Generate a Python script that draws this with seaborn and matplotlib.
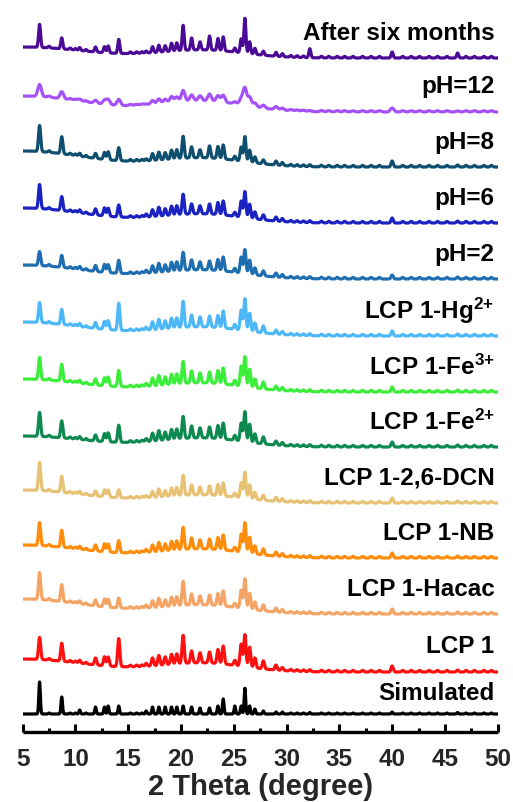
import numpy as np
import pandas as pd
import matplotlib
matplotlib.use("Agg")
import matplotlib.pyplot as plt
import seaborn as sns
from matplotlib.ticker import MultipleLocator

# ---- data (heights in px-like units) ----
peak_pos = [6.6, 8.7, 10.4, 11.9, 12.75, 13.1, 14.1, 16.7, 17.3, 17.9, 18.5, 19.1, 19.6,
            20.2, 21.0, 21.8, 22.7, 23.5, 24.0, 25.1, 25.7, 26.05, 26.5, 27.0, 27.8,
            29.0, 29.6, 32.2, 40.0, 46.2]
minor_pos = [7.5, 9.5, 10.0, 11.0, 15.2, 15.8, 16.3, 30.4, 31.0, 31.6, 33.3, 34.0, 34.8,
             35.5, 36.3, 37.2, 38.0, 38.8, 41.0, 41.8, 42.6, 43.5, 44.3, 45.2, 47.0,
             47.8, 48.7, 49.4]
broad_pos = [5.0, 22.0]
broad_sigma = [6.0, 4.0]

samples = ["Simulated", "LCP 1", "LCP 1-Hacac", "LCP 1-NB", "LCP 1-2,6-DCN",
           "LCP 1-Fe$^{2{+}}$", "LCP 1-Fe$^{3{+}}$", "LCP 1-Hg$^{2{+}}$",
           "pH=2", "pH=6", "pH=8", "pH=12", "After six months"]
colors = ["#000000", "#FF1010", "#F4A464", "#FF8C0A", "#E8C274", "#0E8A50", "#3AEE3A",
          "#4DB8F8", "#1E6EB0", "#1A22C2", "#0E4F70", "#A650FA", "#4B0A95"]
offsets = [18, 60, 118, 174, 229, 285, 340, 396, 453, 509, 565, 620, 674]
widths = [0.17, 0.24, 0.24, 0.24, 0.24, 0.24, 0.24, 0.24, 0.24, 0.24, 0.24, 0.4, 0.22]
minor_h = [1.0, 1.6, 1.6, 1.6, 1.6, 1.6, 1.6, 1.6, 1.6, 1.6, 1.6, 1.2, 1.6]
broad_low = [0, 13, 15, 13, 13, 11, 13, 14, 14, 15, 16, 16, 11]
broad_hump = [0, 9, 9, 9, 8, 9, 9, 9, 9, 9, 9, 11, 8]

h_sim = [32, 17, 4, 7, 7, 8, 8, 3, 7, 7, 7, 7, 7, 8, 7, 6, 6, 8, 15, 8, 8, 26, 8, 5, 3, 2, 2, 1.5, 2, 1.5]
h_lcp1 = [22, 18, 3, 7, 9, 9, 28, 3, 8, 10, 8, 10, 10, 28, 12, 10, 11, 14, 18, 5, 22, 32, 20, 10, 8, 5, 3, 2, 6, 2]
h_hacac = [27, 17, 3, 6, 8, 8, 10, 3, 7, 9, 7, 9, 9, 24, 11, 9, 10, 12, 15, 4, 18, 30, 16, 8, 6, 4, 3, 2, 5, 2]
h_nb = [23, 17, 3, 6, 8, 8, 12, 3, 7, 9, 7, 9, 9, 22, 11, 9, 10, 12, 15, 4, 18, 30, 16, 8, 6, 4, 3, 2, 5, 2]
h_dcn = [28, 16, 3, 5, 7, 7, 8, 2, 6, 8, 6, 8, 8, 20, 10, 8, 9, 11, 13, 4, 15, 26, 14, 7, 5, 4, 3, 2, 5, 2]
h_fe2 = [24, 17, 3, 6, 8, 9, 17, 3, 8, 10, 8, 10, 10, 22, 12, 10, 11, 13, 16, 5, 18, 30, 18, 9, 7, 4, 3, 2, 5, 2]
h_fe3 = [22, 17, 3, 6, 8, 9, 16, 3, 8, 10, 8, 10, 10, 22, 12, 10, 11, 13, 16, 5, 20, 30, 18, 9, 7, 4, 3, 2, 5, 2]
h_hg = [20, 15, 3, 6, 8, 9, 27, 3, 8, 10, 8, 10, 10, 26, 12, 10, 11, 12, 17, 5, 20, 32, 18, 9, 7, 4, 3, 2, 5, 2]
h_ph2 = [14, 12, 3, 6, 8, 8, 13, 3, 7, 9, 7, 9, 9, 18, 10, 8, 9, 11, 14, 4, 16, 24, 14, 7, 5, 4, 3, 2, 4, 2]
h_ph6 = [24, 14, 3, 6, 8, 8, 12, 3, 7, 9, 7, 9, 9, 20, 10, 8, 10, 12, 14, 4, 16, 26, 14, 7, 5, 4, 3, 2, 5, 2]
h_ph8 = [26, 17, 3, 5, 7, 8, 13, 2, 7, 8, 7, 9, 9, 22, 11, 8, 12, 12, 14, 4, 14, 25, 12, 6, 4, 4, 3, 2, 6, 2]
h_ph12 = [12, 7, 2, 3, 4, 5, 6, 1, 4, 5, 4, 6, 5, 11, 6, 5, 7, 6, 7, 2, 6, 17, 9, 4, 3, 3, 2, 1, 4, 1]
h_after = [23, 11, 3, 5, 6, 7, 14, 2, 6, 7, 6, 8, 8, 25, 12, 8, 14, 12, 14, 4, 14, 35, 12, 6, 4, 4, 3, 9, 6, 5]

heights = [h_sim, h_lcp1, h_hacac, h_nb, h_dcn, h_fe2, h_fe3, h_hg, h_ph2, h_ph6, h_ph8, h_ph12, h_after]

# ---- build profiles (peak list rendered as gaussian peaks) ----
x = np.arange(5.0, 50.0001, 0.02)


def profile(i):
    sig = widths[i] / 2.355
    y = np.full_like(x, float(offsets[i]))
    for p, h in zip(peak_pos, heights[i]):
        y += h * np.exp(-0.5 * ((x - p) / sig) ** 2)
    for p in minor_pos:
        y += minor_h[i] * np.exp(-0.5 * ((x - p) / sig) ** 2)
    for p, s, a in zip(broad_pos, broad_sigma, [broad_low[i], broad_hump[i]]):
        y += a * np.exp(-0.5 * ((x - p) / s) ** 2)
    return y


frames = []
for i, name in enumerate(samples):
    frames.append(pd.DataFrame({"x": x, "y": profile(i), "sample": name}))
df = pd.concat(frames, ignore_index=True)

# ---- plot ----
sns.set_theme(style="white")
plt.rcParams["font.family"] = ["Liberation Sans", "DejaVu Sans"]
plt.rcParams["font.weight"] = "bold"
plt.rcParams["mathtext.fontset"] = "custom"
plt.rcParams["mathtext.bf"] = "Liberation Sans:bold"
plt.rcParams["mathtext.rm"] = "Liberation Sans:bold"
plt.rcParams["mathtext.it"] = "Liberation Sans:bold"

fig = plt.figure(figsize=(5.13, 8.03), dpi=100)
ax = fig.add_axes([22.7 / 513, 70 / 803, 475 / 513, 733 / 803])

sns.lineplot(data=df, x="x", y="y", hue="sample", palette=dict(zip(samples, colors)),
             hue_order=samples, legend=False, ax=ax, lw=2.3, sort=False, estimator=None)

for i, name in enumerate(samples):
    dy = 21 if i == 0 else 26
    ax.text(49.7, offsets[i] + dy, name, ha="right", va="center", fontsize=17.5,
            fontweight="bold", color="black")

ax.set_xlim(5, 50)
ax.set_ylim(0, 733)
ax.set_yticks([])
ax.set_ylabel("")
ax.xaxis.set_major_locator(MultipleLocator(5))
ax.xaxis.set_minor_locator(MultipleLocator(2.5))
ax.tick_params(axis="x", which="major", direction="in", length=6, width=2.2,
               labelsize=17.5, pad=11, bottom=True, color="black")
ax.tick_params(axis="x", which="minor", direction="in", length=3, width=2.2,
               bottom=True, color="black")
for lab in ax.get_xticklabels():
    lab.set_fontweight("bold")
ax.set_xlabel("2 Theta (degree)", fontsize=21, fontweight="bold", labelpad=1)
for s in ["left", "right", "top"]:
    ax.spines[s].set_visible(False)
ax.spines["bottom"].set_linewidth(2.4)
ax.spines["bottom"].set_color("black")
ax.spines["bottom"].set_capstyle("butt")

fig.savefig("out.png", dpi=100, facecolor="white")
